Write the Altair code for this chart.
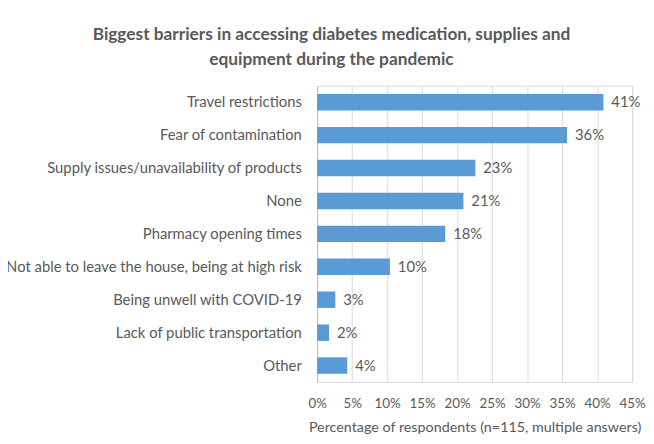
import altair as alt
import pandas as pd

categories = [
    "Travel restrictions",
    "Fear of contamination",
    "Supply issues/unavailability of products",
    "None",
    "Pharmacy opening times",
    "Not able to leave the house, being at high risk",
    "Being unwell with COVID-19",
    "Lack of public transportation",
    "Other",
]
values = [0.409, 0.357, 0.226, 0.209, 0.183, 0.104, 0.026, 0.017, 0.043]
tick_values = [0, 0.05, 0.10, 0.15, 0.20, 0.25, 0.30, 0.35, 0.40, 0.45]

df = pd.DataFrame({"barrier": categories, "share": values})

FONT = "Lato"
GREY = "#595959"
FS = 15

y_enc = alt.Y(
    "barrier:N",
    sort=categories,
    title=None,
    scale=alt.Scale(paddingInner=0.5, paddingOuter=0.25),
    axis=alt.Axis(
        ticks=False,
        labelPadding=16,
        labelFontSize=FS,
        labelColor=GREY,
        labelFont=FONT,
        labelLimit=0,
        domainColor="#BFBFBF",
        grid=False,
    ),
)

x_enc = alt.X(
    "share:Q",
    title="Percentage of respondents (n=115, multiple answers)",
    scale=alt.Scale(domain=[0, 0.45], nice=False),
    axis=alt.Axis(
        values=tick_values,
        format=".0%",
        ticks=False,
        domain=False,
        labelOverlap=False,
        labelFlush=False,
        labelPadding=15,
        labelFontSize=13.5,
        labelColor=GREY,
        labelFont=FONT,
        titleFont=FONT,
        titleFontSize=14.5,
        titleFontWeight="normal",
        titleColor=GREY,
        titlePadding=11,
        gridColor="#D9D9D9",
        gridWidth=1,
    ),
)

bars = alt.Chart(df).mark_bar(color="#5B9BD5").encode(x=x_enc, y=y_enc)

labels = alt.Chart(df).mark_text(
    align="left", baseline="middle", dx=8, fontSize=FS, font=FONT, color=GREY
).encode(
    x=x_enc,
    y=y_enc,
    text=alt.Text("share:Q", format=".0%"),
)

chart = (
    alt.layer(bars, labels)
    .properties(
        width=319,
        height=300,
        title=alt.TitleParams(
            text=[
                "Biggest barriers in accessing diabetes medication, supplies and",
                "equipment during the pandemic",
            ],
            anchor="middle",
            dx=-145,
            offset=18,
            fontSize=17.5,
            font=FONT,
            fontWeight="bold",
            color=GREY,
            lineHeight=25,
        ),
        autosize=alt.AutoSizeParams(type="none"),
        padding={"left": 313, "top": 76, "right": 14, "bottom": 58},
    )
    .configure_view(stroke=None)
    .configure(background="white")
)

chart.save("out.html", embed_options={"renderer": "svg", "actions": False})
